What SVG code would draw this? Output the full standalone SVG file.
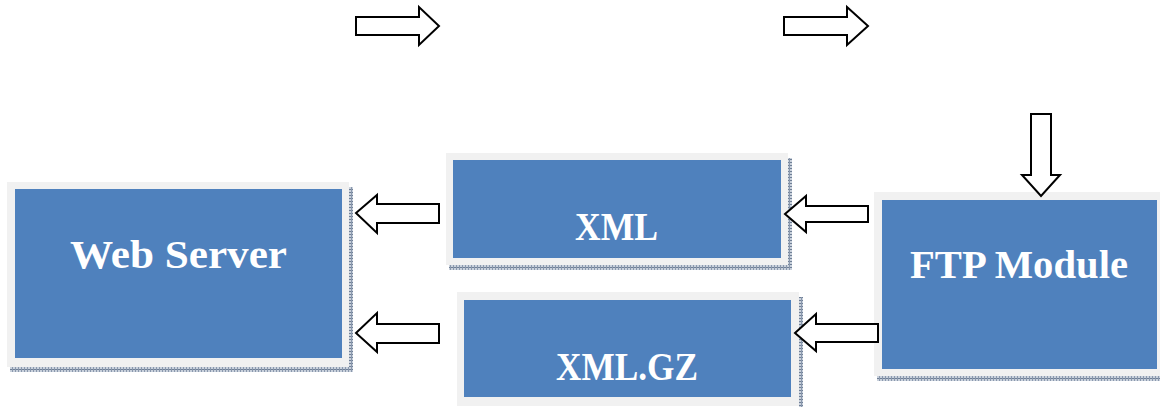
<svg xmlns="http://www.w3.org/2000/svg" width="1160" height="407" viewBox="0 0 1160 407">
  <style>
    .frame { fill: #f1f1f1; }
    .box { fill: #4f81bd; }
    .shadow { fill: url(#grid); }
    .label { font-family: "Liberation Serif", "Times New Roman", serif; font-weight: bold; font-size: 41px; fill: #ffffff; }
    .arrow { fill: #ffffff; stroke: #000000; stroke-width: 2; stroke-linejoin: miter; }
  </style>
  <defs>
    <pattern id="grid" width="3" height="3" patternUnits="userSpaceOnUse">
      <rect width="3" height="3" fill="#c9d1dc"/>
      <rect width="3" height="1" fill="#6f7f96"/>
      <rect width="1" height="3" fill="#8a98ad"/>
    </pattern>
  </defs>
  <rect width="1160" height="407" fill="#ffffff"/>

  <g id="web-server">
    <rect class="shadow" x="349" y="187" width="4" height="185"/>
    <rect class="shadow" x="10" y="367" width="343" height="5"/>
    <rect class="frame" x="7" y="182" width="342" height="185"/>
    <rect class="box" x="15" y="189" width="327" height="169"/>
    <text class="label" x="70" y="268" textLength="217" lengthAdjust="spacingAndGlyphs">Web Server</text>
  </g>

  <g id="xml">
    <rect class="shadow" x="788" y="158" width="4" height="112"/>
    <rect class="shadow" x="449" y="265" width="343" height="5"/>
    <rect class="frame" x="446" y="153" width="342" height="112"/>
    <rect class="box" x="453" y="160" width="328" height="98"/>
    <text class="label" x="575" y="240" textLength="83" lengthAdjust="spacingAndGlyphs">XML</text>
  </g>

  <g id="xml-gz">
    <rect class="shadow" x="799" y="297" width="4" height="110"/>
    <rect class="frame" x="457" y="292" width="342" height="114"/>
    <rect class="box" x="464" y="300" width="327" height="97"/>
    <text class="label" x="556" y="380" textLength="142" lengthAdjust="spacingAndGlyphs">XML.GZ</text>
  </g>

  <g id="ftp-module">
    <rect class="shadow" x="877" y="376" width="283" height="5"/>
    <rect class="frame" x="874" y="192" width="286" height="184"/>
    <rect class="box" x="882" y="200" width="275" height="169"/>
    <text class="label" x="910" y="278" textLength="218" lengthAdjust="spacingAndGlyphs">FTP Module</text>
  </g>

  <g id="connectors">
    <polygon class="arrow" points="356,17 419,17 419,7 439,26 419,45 419,35 356,35"/>
    <polygon class="arrow" points="784,17 847,17 847,7 868,26 847,45 847,35 784,35"/>
    <polygon class="arrow" points="1031,114 1051,114 1051,175 1060,175 1041,196 1022,175 1031,175"/>
    <polygon class="arrow" points="868,206 806,206 806,196 785,214 806,232 806,222 868,222"/>
    <polygon class="arrow" points="878,324 816,324 816,314 795,333 816,351 816,342 878,342"/>
    <polygon class="arrow" points="439,204 377,204 377,195 356,213 377,233 377,223 439,223"/>
    <polygon class="arrow" points="439,324 377,324 377,313 356,333 377,352 377,343 439,343"/>
  </g>
</svg>
